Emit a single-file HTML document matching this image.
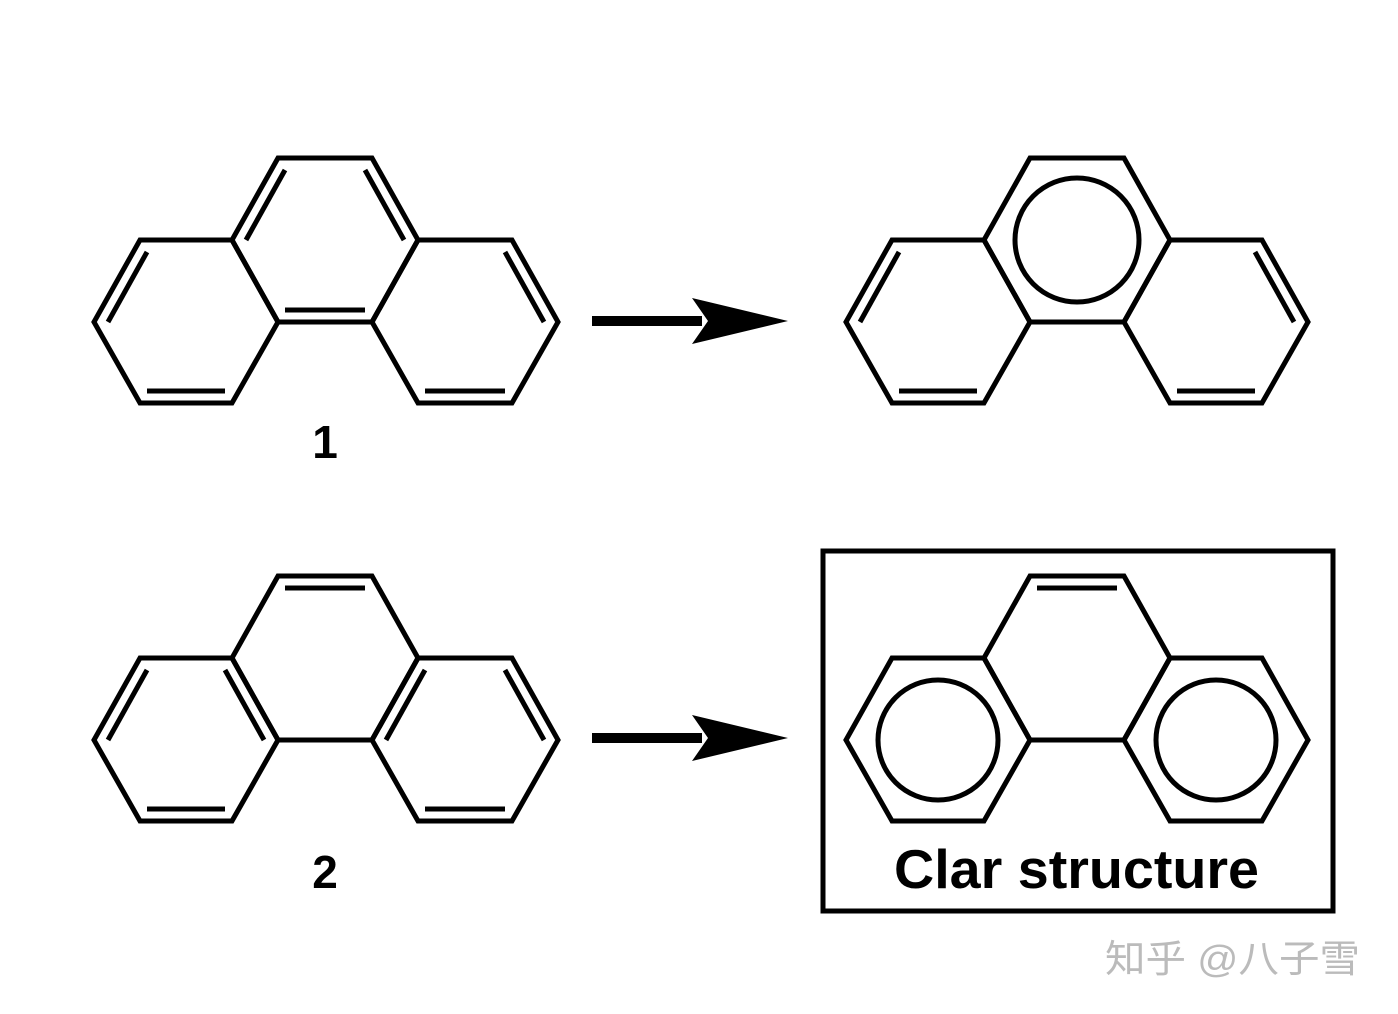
<!DOCTYPE html>
<html><head><meta charset="utf-8"><style>
html,body{margin:0;padding:0;background:#fff;}
svg{display:block;}
</style></head><body>
<svg width="1398" height="1014" viewBox="0 0 1398 1014" xmlns="http://www.w3.org/2000/svg">
<g fill="none" stroke="#000" stroke-width="5" stroke-linejoin="miter">
<!-- Structure 1 -->
<polygon points="278,158 372,158 418,240 372,322 278,322 232,240"/>
<polygon points="232,240 140,240 94,322 140,403 232,403 278,322"/>
<polygon points="418,240 512,240 558,322 512,403 418,403 372,322"/>
<line x1="246" y1="240" x2="285" y2="170"/>
<line x1="365" y1="170" x2="404" y2="240"/>
<line x1="285" y1="310" x2="365" y2="310"/>
<line x1="147" y1="252" x2="108" y2="322"/>
<line x1="147" y1="391" x2="225" y2="391"/>
<line x1="505" y1="252" x2="544" y2="322"/>
<line x1="425" y1="391" x2="505" y2="391"/>
<!-- Structure 2 -->
<polygon points="278,576 372,576 418,658 372,740 278,740 232,658"/>
<polygon points="232,658 140,658 94,740 140,821 232,821 278,740"/>
<polygon points="418,658 512,658 558,740 512,821 418,821 372,740"/>
<line x1="285" y1="588" x2="365" y2="588"/>
<line x1="147" y1="670" x2="108" y2="740"/>
<line x1="225" y1="670" x2="264" y2="740"/>
<line x1="147" y1="809" x2="225" y2="809"/>
<line x1="425" y1="670" x2="386" y2="740"/>
<line x1="505" y1="670" x2="544" y2="740"/>
<line x1="425" y1="809" x2="505" y2="809"/>
<!-- Top right -->
<polygon points="1030,158 1124,158 1170,240 1124,322 1030,322 984,240"/>
<polygon points="984,240 892,240 846,322 892,403 984,403 1030,322"/>
<polygon points="1170,240 1262,240 1308,322 1262,403 1170,403 1124,322"/>
<circle cx="1077" cy="240" r="62"/>
<line x1="899" y1="252" x2="860" y2="322"/>
<line x1="899" y1="391" x2="977" y2="391"/>
<line x1="1255" y1="252" x2="1294" y2="322"/>
<line x1="1177" y1="391" x2="1255" y2="391"/>
<!-- Bottom right -->
<rect x="823" y="551" width="510" height="360"/>
<polygon points="1030,576 1124,576 1170,658 1124,740 1030,740 984,658"/>
<polygon points="984,658 892,658 846,740 892,821 984,821 1030,740"/>
<polygon points="1170,658 1262,658 1308,740 1262,821 1170,821 1124,740"/>
<line x1="1037" y1="588" x2="1117" y2="588"/>
<circle cx="938" cy="740" r="60"/>
<circle cx="1216" cy="740" r="60"/>
</g>
<!-- arrows -->
<rect x="592" y="316" width="110" height="10" fill="#000"/>
<polygon points="692,298 788,321 692,344 708,321" fill="#000"/>
<rect x="592" y="733" width="110" height="10" fill="#000"/>
<polygon points="692,715 788,738 692,761 708,738" fill="#000"/>
<g font-family="'Liberation Sans', Arial, sans-serif" font-weight="bold" fill="#000">
<text x="325" y="458" font-size="46" text-anchor="middle">1</text>
<text x="325" y="888" font-size="46" text-anchor="middle">2</text>
<text x="894" y="888" font-size="55" textLength="365" lengthAdjust="spacingAndGlyphs">Clar structure</text>
</g>
<text x="1105" y="972" font-family="'Liberation Sans','Noto Sans CJK SC',sans-serif" font-size="38" fill="#bbb" textLength="255" lengthAdjust="spacingAndGlyphs">知乎 @八子雪</text>
</svg>
</body></html>
